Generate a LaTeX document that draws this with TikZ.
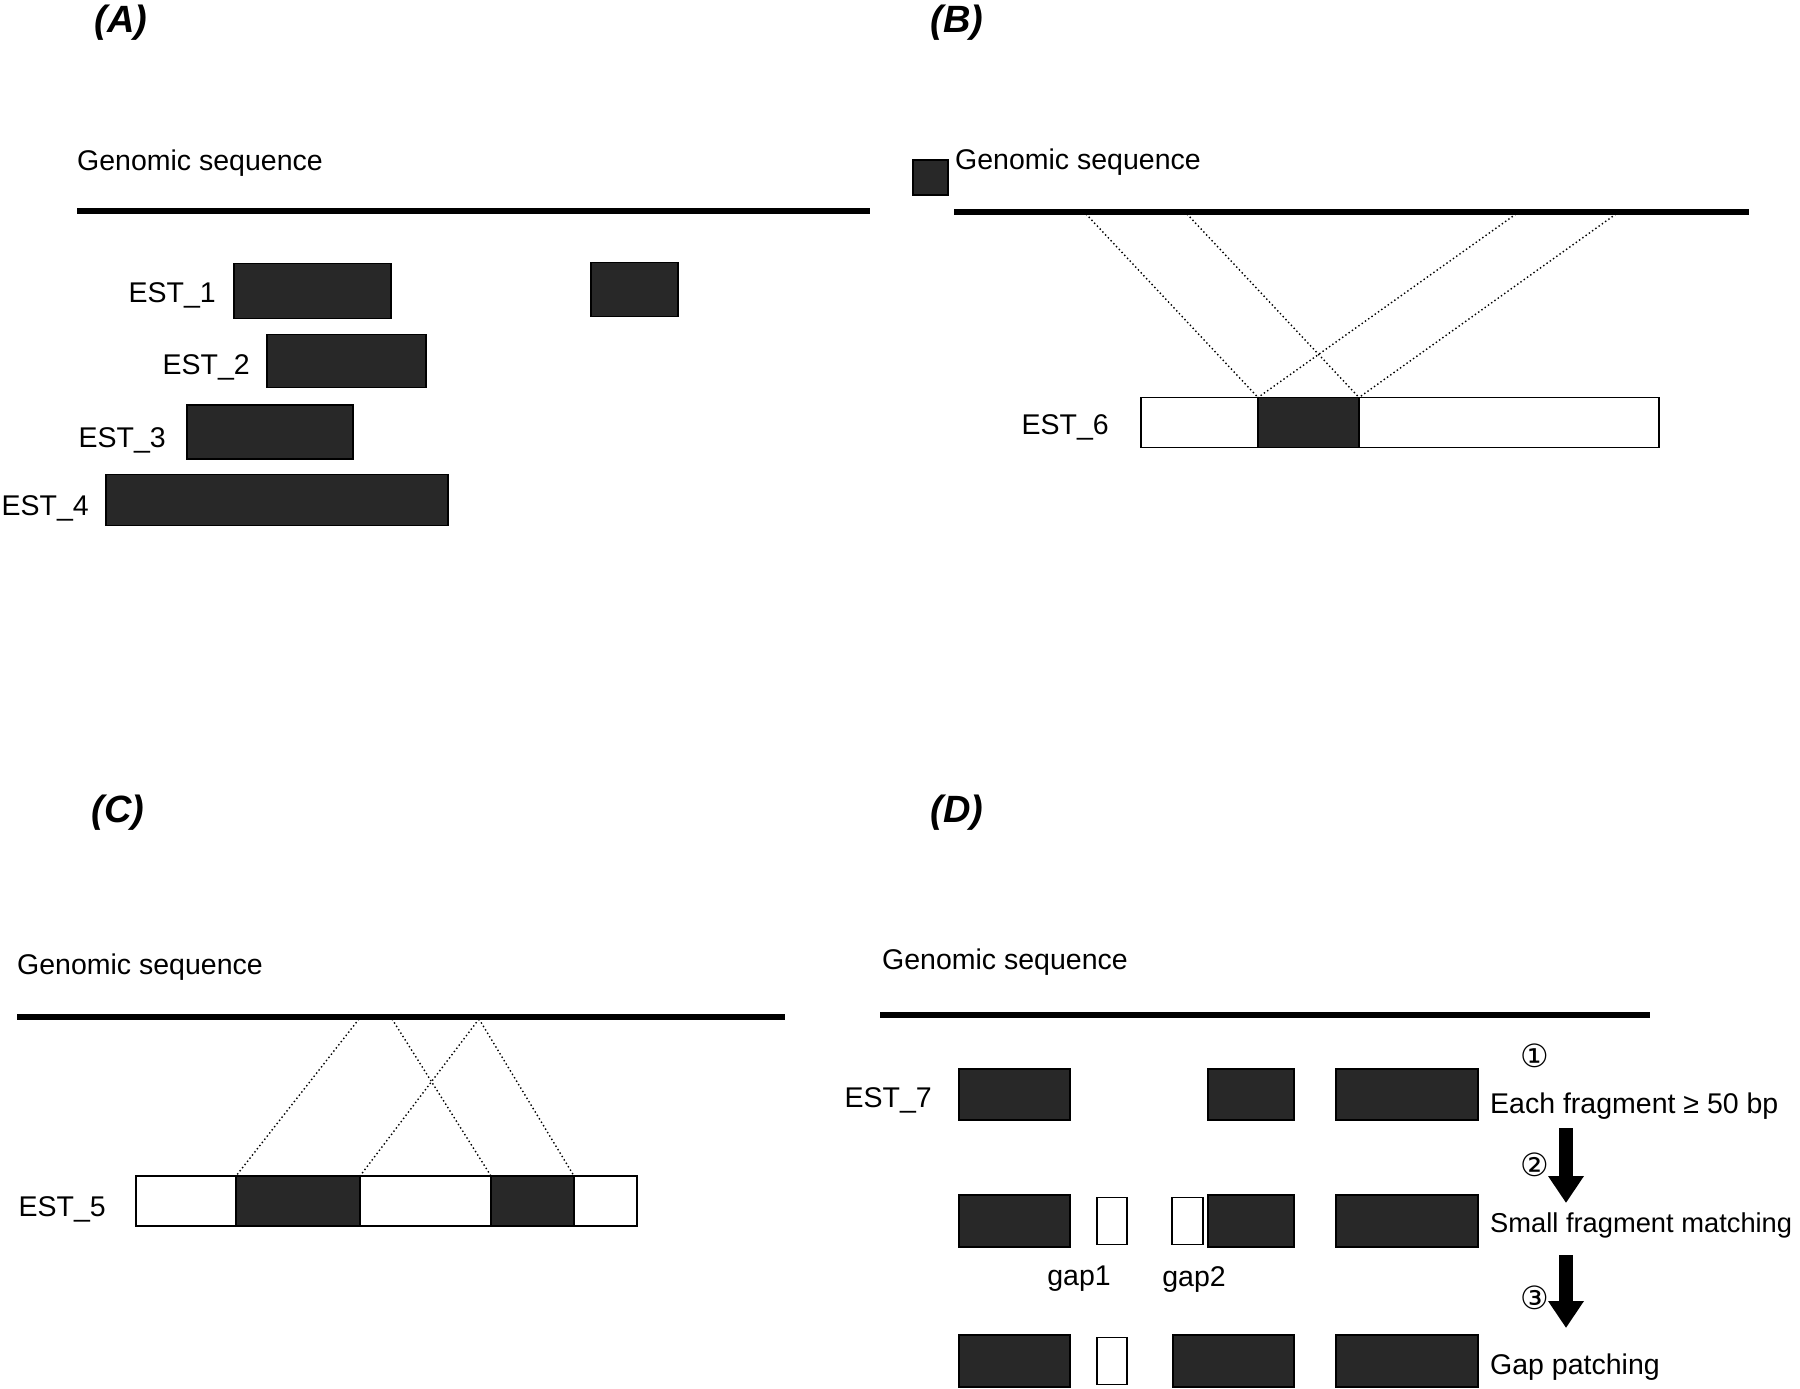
\documentclass[tikz,border=0pt]{standalone}
\usepackage{fontspec}
\setmainfont{Liberation Sans}
\newfontfamily\circfont{DejaVu Sans}
\usepackage{xcolor}
\usepackage{tikz}
\usetikzlibrary{arrows.meta,positioning}
\definecolor{exonGray}{RGB}{40,40,40}

\tikzset{
    genome/.style={line width=6pt},
    exon/.style={draw=black, line width=1.5pt, fill=exonGray, inner sep=0pt, outer sep=0pt},
    gapbox/.style={draw=black, line width=1.5pt, fill=white, inner sep=0pt, outer sep=0pt},
    link/.style={line width=1.4pt, dash pattern=on 1.4pt off 2.6pt},
    lbl/.style={font=\fontsize{28.5}{34}\selectfont, inner sep=0pt},
    estlbl/.style={lbl, yshift=-8pt},
    panel/.style={font=\fontsize{38}{44}\selectfont\bfseries\itshape, inner sep=0pt},
    stepnum/.style={font=\circfont\fontsize{32}{36}\selectfont, inner sep=0pt},
    bigarrow/.style={line width=14pt, -{Triangle[width=34pt,length=27pt]}}
}

\begin{document}
\begin{tikzpicture}[x=1pt,y=-1pt]
    \useasboundingbox (0,0) rectangle (1800,1389);
    % (A) overlapping ESTs
    \begin{scope}[shift={(0,0)}]
        \node[panel] (pA) at (121,23) {(A)};
        \node[lbl, anchor=west] (gA) at (77,163) {Genomic sequence};
        \coordinate (gAl) at (77,211);
        \coordinate (gAr) at (870,211);
        \draw[genome] (gAl) -- (gAr);
        \node[exon, minimum width=157pt, minimum height=55pt] (e1a) at (312.5,291) {};
        \node[exon, minimum width=87pt, minimum height=54pt] (e1b) at (634.5,289.5) {};
        \node[exon, minimum width=159pt, minimum height=53pt] (e2) at (346.5,361) {};
        \node[exon, minimum width=166pt, minimum height=54pt] (e3) at (270,432) {};
        \node[exon, minimum width=342pt, minimum height=51pt] (e4) at (277,500) {};
        \node[estlbl, left=18pt of e1a, yshift=4pt] (l1) {EST\_1};
        \node[estlbl, left=17pt of e2, yshift=2pt] (l2) {EST\_2};
        \node[estlbl, left=21pt of e3] (l3) {EST\_3};
        \node[estlbl, left=17pt of e4] (l4) {EST\_4};
    \end{scope}
    % (B) one exon, two hits
    \begin{scope}[shift={(0,0)}]
        \node[panel] (pB) at (957,23) {(B)};
        \node[exon, minimum width=35pt, minimum height=35pt] (mB) at (930.5,177.5) {};
        \node[lbl, anchor=west] (gB) at (955,162) {Genomic sequence};
        \coordinate (gBl) at (954,212);
        \coordinate (gBr) at (1749,212);
        \draw[genome] (gBl) -- (gBr);
        \node[gapbox, minimum width=518pt, minimum height=50pt] (est6) at (1400,422.5) {};
        \node[exon, minimum width=101pt, minimum height=50pt] (b6) at (1308.5,422.5) {};
        \node[estlbl, left=32pt of est6, yshift=3pt] (l6) {EST\_6};
        \coordinate (hB1) at (1086,214);
        \coordinate (hB2) at (1187,214);
        \coordinate (hB3) at (1516,214);
        \coordinate (hB4) at (1616,214);
        \draw[link] (hB1) -- (b6.north west);
        \draw[link] (hB2) -- (b6.north east);
        \draw[link] (hB3) -- (b6.north west);
        \draw[link] (hB4) -- (b6.north east);
    \end{scope}
    % (C) two exons, crossed hits
    \begin{scope}[shift={(0,790)}]
        \node[panel] (pC) at (118,23) {(C)};
        \node[lbl, anchor=west] (gC) at (17,177) {Genomic sequence};
        \coordinate (gCl) at (17,227);
        \coordinate (gCr) at (785,227);
        \draw[genome] (gCl) -- (gCr);
        \node[gapbox, minimum width=501pt, minimum height=50pt] (est5) at (386.5,411) {};
        \node[exon, minimum width=124pt, minimum height=50pt] (c5a) at (298,411) {};
        \node[exon, minimum width=83pt, minimum height=50pt] (c5b) at (532.5,411) {};
        \node[estlbl, left=30pt of est5] (l5) {EST\_5};
        \coordinate (hC1) at (359,229);
        \coordinate (hC2) at (392,229);
        \coordinate (hC3) at (479,229);
        \draw[link] (hC1) -- (c5a.north west);
        \draw[link] (hC3) -- (c5a.north east);
        \draw[link] (hC2) -- (c5b.north west);
        \draw[link] (hC3) -- (c5b.north east);
    \end{scope}
    % (D) three steps
    \begin{scope}[shift={(0,790)}]
        \node[panel] (pD) at (957,23) {(D)};
        \node[lbl, anchor=west] (gD) at (882,172) {Genomic sequence};
        \coordinate (gDl) at (880,225);
        \coordinate (gDr) at (1650,225);
        \draw[genome] (gDl) -- (gDr);
        % step 1
        \node[exon, minimum width=111pt, minimum height=51pt] (r1a) at (1014.5,304.5) {};
        \node[exon, minimum width=86pt, minimum height=51pt] (r1b) at (1251,304.5) {};
        \node[exon, minimum width=142pt, minimum height=51pt] (r1c) at (1407,304.5) {};
        \node[estlbl, left=27pt of r1a, yshift=2pt] (l7) {EST\_7};
        % step 2
        \node[exon, minimum width=111pt, minimum height=52pt] (r2a) at (1014.5,431) {};
        \node[gapbox, minimum width=30pt, minimum height=47pt] (g1) at (1112,431) {};
        \node[gapbox, minimum width=31pt, minimum height=47pt] (g2) at (1187.5,431) {};
        \node[exon, minimum width=86pt, minimum height=52pt] (r2b) at (1251,431) {};
        \node[exon, minimum width=142pt, minimum height=52pt] (r2c) at (1407,431) {};
        \node[lbl] (lg1) at (1079,489) {gap1};
        \node[lbl] (lg2) at (1194,489) {gap2};
        % step 3
        \node[exon, minimum width=111pt, minimum height=52pt] (r3a) at (1014.5,571) {};
        \node[gapbox, minimum width=30pt, minimum height=47pt] (g3) at (1112,571) {};
        \node[exon, minimum width=121pt, minimum height=52pt] (r3b) at (1233.5,571) {};
        \node[exon, minimum width=142pt, minimum height=52pt] (r3c) at (1407,571) {};
        % step labels
        \node[stepnum] (n1) at (1535,266) {①};
        \node[lbl, anchor=west] (s1) at (1490,316) {Each fragment ≥ 50 bp};
        \node[stepnum] (n2) at (1535,375) {②};
        \node[lbl, anchor=west, font=\fontsize{27.3}{34}\selectfont] (s2) at (1490,435) {Small fragment matching};
        \node[stepnum] (n3) at (1535,508) {③};
        \node[lbl, anchor=west] (s3) at (1490,577) {Gap patching};
        \coordinate (a1s) at (1566,338);
        \coordinate (a1e) at (1566,413);
        \coordinate (a2s) at (1566,465);
        \coordinate (a2e) at (1566,538);
        \draw[bigarrow] (a1s) -- (a1e);
        \draw[bigarrow] (a2s) -- (a2e);
    \end{scope}
\end{tikzpicture}
\end{document}
